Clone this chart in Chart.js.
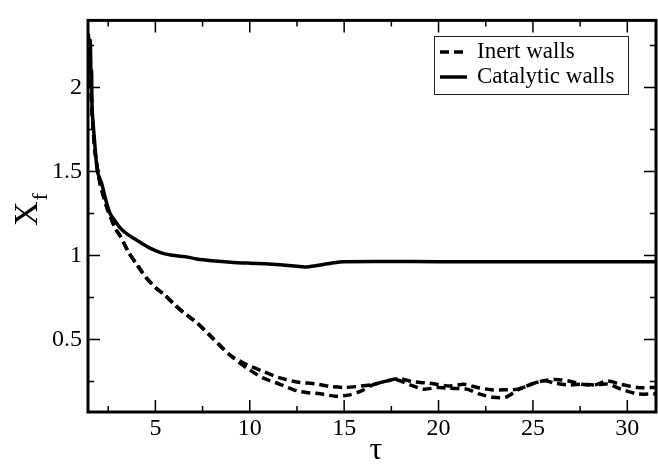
<!DOCTYPE html>
<html>
<head>
<meta charset="utf-8">
<script src="https://cdn.jsdelivr.net/npm/chart.js@4.4.0/dist/chart.umd.min.js"></script>
<style>
  html, body { margin: 0; padding: 0; background: #fff; }
  canvas { display: block; }
</style>
</head>
<body>
<canvas id="chart" width="658" height="468"></canvas>
<script>
// Front position X_f vs time tau, inert walls vs catalytic walls

const catalyticTau = [1.45, 1.5, 1.55, 1.6, 1.62, 1.65, 1.75, 1.93, 2.15, 2.4, 2.6, 2.9, 3.2, 3.6, 3.9, 4.4, 4.8, 5.4, 6.0, 6.6, 7.2, 8.0, 9.0, 10.0, 10.8, 11.6, 12.5, 12.9, 13.5, 14.3, 15.0, 20, 25, 31.6];
const catalyticXf = [2.32, 2.15, 2.28, 2.0, 2.1, 1.87, 1.72, 1.5, 1.43, 1.32, 1.25, 1.2, 1.157, 1.12, 1.10, 1.065, 1.04, 1.013, 1.0, 0.993, 0.98, 0.97, 0.961, 0.955, 0.951, 0.945, 0.936, 0.932, 0.94, 0.955, 0.964, 0.964, 0.964, 0.964];

const inertUpperTau = [1.45, 1.55, 1.65, 1.8, 2.06, 2.42, 2.86, 3.13, 3.57, 4.0, 4.5, 5.0, 5.5, 5.95, 6.5, 7.2, 8.08, 8.96, 9.85, 10.7, 11.6, 12.5, 13.5, 14.3, 15.0, 15.6, 16.5, 17.2, 17.9, 18.6, 19.5, 20.6, 21.35, 22.06, 22.8, 23.5, 24.2, 24.9, 25.5, 26.2, 26.9, 27.6, 28.25, 28.96, 29.66, 30.55, 31.6];
const inertUpperXf = [2.3, 2.1, 1.85, 1.62, 1.435, 1.29, 1.166, 1.118, 1.022, 0.95, 0.87, 0.81, 0.765, 0.715, 0.66, 0.6, 0.503, 0.407, 0.35, 0.311, 0.272, 0.248, 0.236, 0.22, 0.215, 0.22, 0.232, 0.253, 0.268, 0.25, 0.24, 0.224, 0.234, 0.215, 0.201, 0.201, 0.205, 0.234, 0.253, 0.263, 0.253, 0.234, 0.23, 0.253, 0.234, 0.215, 0.215];

const inertLowerTau = [1.45, 1.55, 1.65, 1.8, 2.06, 2.42, 2.86, 3.13, 3.57, 4.0, 4.5, 5.0, 5.5, 5.95, 6.5, 7.2, 8.08, 8.96, 9.85, 10.7, 11.6, 12.5, 13.0, 13.74, 14.54, 15.3, 15.95, 16.48, 17.1, 17.8, 18.5, 19.2, 20.0, 20.6, 21.5, 22.14, 22.86, 23.56, 24.2, 24.9, 25.6, 26.2, 26.9, 27.6, 28.25, 28.96, 29.66, 30.55, 31.6];
const inertLowerXf = [2.3, 2.1, 1.85, 1.62, 1.435, 1.29, 1.166, 1.118, 1.022, 0.95, 0.87, 0.81, 0.765, 0.715, 0.66, 0.6, 0.503, 0.407, 0.33, 0.272, 0.234, 0.195, 0.185, 0.177, 0.163, 0.171, 0.196, 0.229, 0.25, 0.26, 0.23, 0.205, 0.215, 0.21, 0.205, 0.177, 0.157, 0.157, 0.2, 0.234, 0.255, 0.24, 0.23, 0.234, 0.23, 0.235, 0.205, 0.177, 0.177];

const xMajorTicks = [5, 10, 15, 20, 25, 30];
const xMinorTicks = [2.5, 7.5, 12.5, 17.5, 22.5, 27.5];
const yMajorTicks = [0.5, 1, 1.5, 2];
const yMinorTicks = [0.25, 0.75, 1.25, 1.75, 2.25];
const yTickLabels = ['0.5', '1', '1.5', '2'];

const serif = '"Liberation Serif", "DejaVu Serif", serif';

function toPoints(xs, ys) {
    return xs.map((x, i) => ({ x: x, y: ys[i] }));
}

// Boxed frame with inward ticks on all four sides, axis titles and legend
const framePlugin = {
    id: 'frame',
    afterDraw(chart) {
        const ctx = chart.ctx;
        const area = chart.chartArea;
        const xs = chart.scales.x;
        const ys = chart.scales.y;
        ctx.save();
        ctx.strokeStyle = '#000';

        ctx.lineWidth = 1.5;
        ctx.beginPath();
        const tickX = (v, len) => {
            const p = xs.getPixelForValue(v);
            ctx.moveTo(p, area.bottom); ctx.lineTo(p, area.bottom - len);
            ctx.moveTo(p, area.top); ctx.lineTo(p, area.top + len);
        };
        const tickY = (v, len) => {
            const p = ys.getPixelForValue(v);
            ctx.moveTo(area.left, p); ctx.lineTo(area.left + len, p);
            ctx.moveTo(area.right, p); ctx.lineTo(area.right - len, p);
        };
        xMajorTicks.forEach(v => tickX(v, 12));
        xMinorTicks.forEach(v => tickX(v, 6));
        yMajorTicks.forEach(v => tickY(v, 12));
        yMinorTicks.forEach(v => tickY(v, 6));
        ctx.stroke();

        ctx.lineWidth = 3;
        ctx.strokeRect(area.left, area.top, area.right - area.left, area.bottom - area.top);

        // x axis title
        ctx.fillStyle = '#000';
        ctx.textAlign = 'center';
        ctx.textBaseline = 'alphabetic';
        ctx.font = '32px ' + serif;
        ctx.fillText('\u03c4', 376, 459);

        // y axis title X_f, rotated
        ctx.save();
        ctx.translate(37, 226);
        ctx.rotate(-Math.PI / 2);
        ctx.textAlign = 'left';
        ctx.font = '34px ' + serif;
        ctx.fillText('X', 0, 0);
        const w = ctx.measureText('X').width;
        ctx.font = '22px ' + serif;
        ctx.fillText('f', w + 1, 10);
        ctx.restore();

        // legend
        const bx = 434.5, by = 36.5, bw = 194, bh = 58;
        ctx.lineWidth = 1;
        ctx.strokeStyle = '#222';
        ctx.strokeRect(bx, by, bw, bh);
        const items = chart.data.datasets.filter(d => d.inLegend);
        ctx.font = '23px ' + serif;
        ctx.textAlign = 'left';
        items.forEach((d, i) => {
            const ly = 52 + i * 25;
            ctx.save();
            ctx.strokeStyle = d.borderColor;
            ctx.lineWidth = d.borderWidth;
            ctx.setLineDash(d.borderDash || []);
            ctx.beginPath();
            ctx.moveTo(440, ly);
            ctx.lineTo(d.borderDash ? 463 : 467, ly);
            ctx.stroke();
            ctx.restore();
            ctx.fillText(d.label, 477, ly + 6);
        });
        ctx.restore();
    }
};

const lineStyle = {
    borderColor: '#000',
    borderWidth: 3.5,
    pointRadius: 0,
    fill: false,
    tension: 0.25
};

new Chart(document.getElementById('chart'), {
    type: 'line',
    data: {
        datasets: [
            Object.assign({ label: 'Inert walls', data: toPoints(inertUpperTau, inertUpperXf), borderDash: [9, 5], inLegend: true }, lineStyle),
            Object.assign({ label: 'Inert walls', data: toPoints(inertLowerTau, inertLowerXf), borderDash: [9, 5] }, lineStyle),
            Object.assign({ label: 'Catalytic walls', data: toPoints(catalyticTau, catalyticXf), inLegend: true }, lineStyle)
        ]
    },
    options: {
        responsive: false,
        animation: false,
        devicePixelRatio: 1,
        layout: { padding: { top: 8, right: 2, left: 0, bottom: 0 } },
        plugins: {
            legend: { display: false },
            tooltip: { enabled: false }
        },
        scales: {
            x: {
                type: 'linear',
                min: 1.43,
                max: 31.52,
                grid: { display: false, drawTicks: false },
                border: { display: false },
                afterBuildTicks: scale => { scale.ticks = xMajorTicks.map(v => ({ value: v })); },
                afterFit: scale => { scale.height = 56; },
                ticks: {
                    padding: 2,
                    color: '#000',
                    maxRotation: 0,
                    font: { family: serif, size: 24 },
                    callback: value => String(value)
                }
            },
            y: {
                type: 'linear',
                min: 0.069,
                max: 2.40,
                grid: { display: false, drawTicks: false },
                border: { display: false },
                afterBuildTicks: scale => { scale.ticks = yMajorTicks.map(v => ({ value: v })); },
                afterFit: scale => { scale.width = 88; },
                ticks: {
                    padding: 6,
                    color: '#000',
                    font: { family: serif, size: 24 },
                    callback: (value, index) => yTickLabels[index]
                }
            }
        }
    },
    plugins: [framePlugin]
});
</script>
</body>
</html>
